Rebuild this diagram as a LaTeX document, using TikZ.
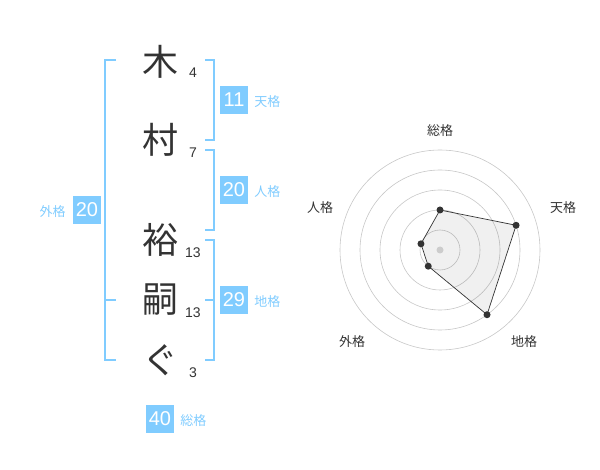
\documentclass[tikz,border=0pt]{standalone}
\usepackage{fontspec}
\setmainfont{Liberation Sans}
\newfontfamily\jpfont{Noto Sans CJK JP}
\usetikzlibrary{calc, positioning}
\definecolor{kaku}{HTML}{80CCFF}
\definecolor{ink}{HTML}{333333}

\begin{document}
\begin{tikzpicture}[x=1pt, y=-1pt, inner sep=0pt,
	moji/.style={text=ink, font=\jpfont\fontsize{36}{36}\selectfont},
	kakusu/.style={text=ink, font=\fontsize{14}{14}\selectfont},
	kbox/.style={fill=kaku, text=white, minimum size=28pt, font=\fontsize{20}{20}\selectfont},
	klabel/.style={text=kaku, font=\jpfont\fontsize{13}{13}\selectfont},
	bracket/.style={draw=kaku, line width=2pt},
	ring/.style={draw=black!22, line width=0.6pt},
	dot/.style={circle, fill=ink, minimum size=7pt},
	axislabel/.style={text=ink, font=\jpfont\fontsize{13}{13}\selectfont}]
	\useasboundingbox (0,0) rectangle (600,470);
	% name
	\node (m1) [moji] at (160,62) {木};
	\node (m2) [moji] at (160,140) {村};
	\node (m3) [moji] at (160,240) {裕};
	\node (m4) [moji] at (160,300) {嗣};
	\node (m5) [moji] at (160,360) {ぐ};
	\node (s1) [kakusu] at (193,73) {4};
	\node (s2) [kakusu] at (193,153) {7};
	\node (s3) [kakusu] at (193,253) {13};
	\node (s4) [kakusu] at (193,313) {13};
	\node (s5) [kakusu] at (193,373) {3};
	% brackets
	\draw[bracket] (205,60) -- (214,60) -- (214,140) -- (205,140);
	\draw[bracket] (205,150) -- (214,150) -- (214,230) -- (205,230);
	\draw[bracket] (205,240) -- (214,240) -- (214,360) -- (205,360);
	\draw[bracket] (205,300) -- (214,300);
	\draw[bracket] (116,60) -- (105,60) -- (105,360) -- (116,360);
	\draw[bracket] (105,300) -- (116,300);
	% kaku
	\node (ten) [kbox] at (234,100) {11};
	\node (tenl) [klabel, base right=6pt of ten] {天格};
	\node (jin) [kbox] at (234,190) {20};
	\node (jinl) [klabel, base right=6pt of jin] {人格};
	\node (chi) [kbox] at (234,300) {29};
	\node (chil) [klabel, base right=6pt of chi] {地格};
	\node (gai) [kbox] at (87,210) {20};
	\node (gail) [klabel, base left=7pt of gai] {外格};
	\node (sou) [kbox] at (160,419) {40};
	\node (soul) [klabel, base right=6pt of sou] {総格};
	% radar
	\coordinate (c) at (440,250);
	\foreach \r in {20,40,60,80,100}
		\draw[ring] (c) circle (\r pt);
	\coordinate (p1) at ($(c)+(-90:40)$);
	\coordinate (p2) at ($(c)+(-18:80)$);
	\coordinate (p3) at ($(c)+(54:80)$);
	\coordinate (p4) at ($(c)+(126:20)$);
	\coordinate (p5) at ($(c)+(198:20)$);
	\path[fill=black, fill opacity=0.06, draw=ink, draw opacity=1, line width=0.7pt]
		(p1) -- (p2) -- (p3) -- (p4) -- (p5) -- cycle;
	\node (c0) [dot, fill=black!20] at (c) {};
	\foreach \i in {1,...,5}
		\node (d\i) [dot] at (p\i) {};
	\node (a1) [axislabel] at (440,131) {総格};
	\node (a2) [axislabel] at (563,208) {天格};
	\node (a3) [axislabel] at (524,342) {地格};
	\node (a4) [axislabel] at (352,342) {外格};
	\node (a5) [axislabel] at (320,208) {人格};
\end{tikzpicture}
\end{document}
